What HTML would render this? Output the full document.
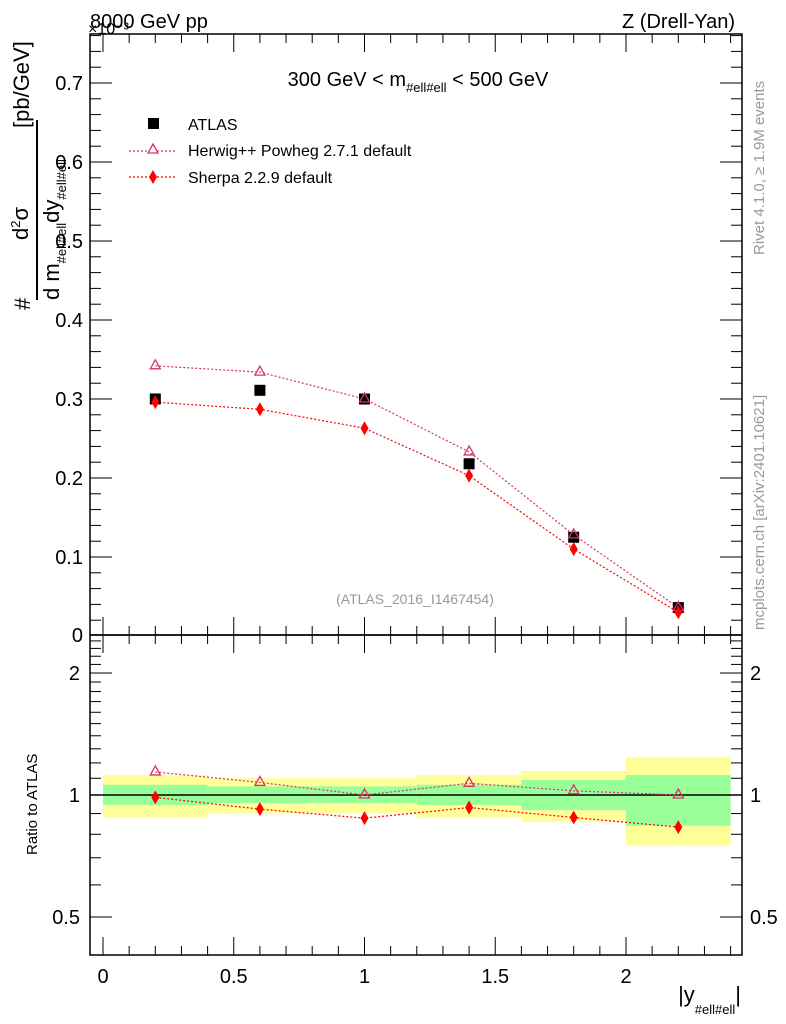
<!DOCTYPE html>
<html><head><meta charset="utf-8"><style>
html,body{margin:0;padding:0;background:#fff;}
svg{display:block;font-family:"Liberation Sans",sans-serif;}
</style></head><body>
<svg id="chart" width="786" height="1024" viewBox="0 0 786 1024" xmlns="http://www.w3.org/2000/svg">
<g id="bands"></g>
<g id="axes"></g>
<g id="series"></g>
<text x="90" y="28" font-size="20">8000 GeV pp</text>
<text x="88" y="34" font-size="16">×10⁻³</text>
<text x="735" y="28" font-size="20" text-anchor="end">Z (Drell-Yan)</text>
<text x="418" y="86" font-size="20" text-anchor="middle">300 GeV &lt; m<tspan font-size="13" dy="6">#ell#ell</tspan><tspan dy="-6"> &lt; 500 GeV</tspan></text>
<text x="415" y="604" font-size="14" fill="#999" text-anchor="middle">(ATLAS_2016_I1467454)</text>
<text transform="translate(764,255) rotate(-90)" font-size="15" fill="#999">Rivet 4.1.0, ≥ 1.9M events</text>
<text transform="translate(764,630) rotate(-90)" font-size="15" fill="#999">mcplots.cern.ch [arXiv:2401.10621]</text>
<g>
<text transform="translate(30,310) rotate(-90)" font-size="22">#</text>
<text transform="translate(28,240) rotate(-90)" font-size="22">d<tspan font-size="13" dy="-8">2</tspan><tspan dy="8">σ</tspan></text>
<line x1="37" y1="300" x2="37" y2="120" stroke="#000" stroke-width="2"/>
<text transform="translate(59,300) rotate(-90)" font-size="22">d m<tspan font-size="13" dy="7">#ell#ell</tspan><tspan dy="-7">dy</tspan><tspan font-size="13" dy="7">#ell#ell</tspan></text>
<text transform="translate(29,128) rotate(-90)" font-size="22">[pb/GeV]</text>
</g>
<text transform="translate(37,855) rotate(-90)" font-size="15">Ratio to ATLAS</text>
<text x="741" y="1002" font-size="22" text-anchor="end">|y<tspan font-size="13" dy="12">#ell#ell</tspan><tspan dy="-12">|</tspan></text>
<g>
<rect x="148" y="118" width="11" height="11" fill="#000"/>
<text x="188" y="130" font-size="16">ATLAS</text>
<line x1="129" y1="151" x2="176" y2="151" stroke="#d6336c" stroke-dasharray="2,2" stroke-width="1.2"/>
<path d="M153,144 L158,153 L148,153 Z" fill="#fff" stroke="#d6336c" stroke-width="1.3"/>
<text x="188" y="156" font-size="16">Herwig++ Powheg 2.7.1 default</text>
<line x1="129" y1="177" x2="176" y2="177" stroke="#f00" stroke-dasharray="2,2" stroke-width="1.2"/>
<path d="M153,170 L157,177 L153,184 L149,177 Z" fill="#f00"/>
<text x="188" y="183" font-size="16">Sherpa 2.2.9 default</text>
</g>
</svg>
<script>
const xCenters=[0.2,0.6,1.0,1.4,1.8,2.2];
const binEdges=[0,0.4,0.8,1.2,1.6,2.0,2.4];
const atlasValues=[0.300,0.311,0.300,0.218,0.125,0.036];
const herwigValues=[0.342,0.334,0.300,0.233,0.128,0.036];
const sherpaValues=[0.296,0.287,0.263,0.203,0.110,0.030];
const totalBandHi=[1.12,1.10,1.10,1.12,1.146,1.24];
const totalBandLo=[0.877,0.90,0.90,0.877,0.858,0.75];
const statBandHi=[1.06,1.05,1.05,1.06,1.09,1.12];
const statBandLo=[0.945,0.955,0.955,0.945,0.918,0.84];
const xTicks=[0,0.5,1,1.5,2];
const xTickLabels=["0","0.5","1","1.5","2"];
const yTicks=[0.1,0.2,0.3,0.4,0.5,0.6,0.7];
const yTickLabels=["0.1","0.2","0.3","0.4","0.5","0.6","0.7"];
const rTicks=[0.5,1,2];
const rTickLabels=["0.5","1","2"];

const L=90,R=742,T=34,MB=635,RB=955;
const X=v=>103+v*261.5;
const Y=v=>636-v*790;
const RY=v=>795-Math.log2(v)*122;
const NS="http://www.w3.org/2000/svg";
function mk(parent,tag,attrs){const e=document.createElementNS(NS,tag);for(const k in attrs)e.setAttribute(k,attrs[k]);parent.appendChild(e);return e;}
const bands=document.getElementById('bands'),axes=document.getElementById('axes'),series=document.getElementById('series');

for(let i=0;i<xCenters.length;i++){
 const y1=mk(bands,'rect',{x:X(binEdges[i]),y:RY(totalBandHi[i]),width:X(binEdges[i+1])-X(binEdges[i]),height:RY(totalBandLo[i])-RY(totalBandHi[i]),fill:'#ffff99'});
 
 
 const g1=mk(bands,'rect',{x:X(binEdges[i]),y:RY(statBandHi[i]),width:X(binEdges[i+1])-X(binEdges[i]),height:RY(statBandLo[i])-RY(statBandHi[i]),fill:'#99ff99'});
 
 
}
mk(axes,'rect',{x:L,y:T,width:R-L,height:MB-T,fill:'none',stroke:'#000','stroke-width':1.5});
mk(axes,'rect',{x:L,y:MB,width:R-L,height:RB-MB,fill:'none',stroke:'#000','stroke-width':1.5});
mk(axes,'line',{x1:L,y1:RY(1),x2:R,y2:RY(1),stroke:'#000','stroke-width':1.5});
for(let k=0;k<=24;k++){const v=k/10;const x=X(v);const major=(k%5===0);const len=major?18:9;
 mk(axes,'line',{x1:x,y1:MB,x2:x,y2:MB-len,stroke:'#000'});mk(axes,'line',{x1:x,y1:T,x2:x,y2:T+len,stroke:'#000'});
 mk(axes,'line',{x1:x,y1:RB,x2:x,y2:RB-len,stroke:'#000'});mk(axes,'line',{x1:x,y1:MB,x2:x,y2:MB+len,stroke:'#000'});}
xTicks.forEach((v,i)=>{const t=mk(axes,'text',{x:X(v),y:983,'font-size':20,'text-anchor':'middle'});t.textContent=xTickLabels[i];
 
 });
for(let k=1;k<=38;k++){const v=k*0.02;const y=Y(v);const major=(k%5===0);const len=major?22:11;
 mk(axes,'line',{x1:L,y1:y,x2:L+len,y2:y,stroke:'#000'});mk(axes,'line',{x1:R,y1:y,x2:R-len,y2:y,stroke:'#000'});}
yTicks.forEach((v,i)=>{const t=mk(axes,'text',{x:83,y:Y(v)+7,'font-size':20,'text-anchor':'end'});t.textContent=yTickLabels[i];
 
 });
const z=mk(axes,'text',{x:83,y:642,'font-size':20,'text-anchor':'end'});z.textContent='0';
[0.5,0.6,0.7,0.8,0.9,1,1.1,1.2,1.3,1.4,1.5,1.6,1.7,1.8,1.9,2,2.1,2.2,2.3,2.4].forEach(v=>{const y=RY(v);const major=(v===0.5||v===1||v===2);const len=major?22:11;
 mk(axes,'line',{x1:L,y1:y,x2:L+len,y2:y,stroke:'#000'});mk(axes,'line',{x1:R,y1:y,x2:R-len,y2:y,stroke:'#000'});});
rTicks.forEach((v,i)=>{const t=mk(axes,'text',{x:80,y:RY(v)+7,'font-size':20,'text-anchor':'end'});t.textContent=rTickLabels[i];
 
 
 const t2=mk(axes,'text',{x:750,y:RY(v)+7,'font-size':20});t2.textContent=rTickLabels[i];
 
 });

function line(vals,fy,col){mk(series,'polyline',{points:xCenters.map((x,i)=>X(x)+','+fy(vals[i])).join(' '),fill:'none',stroke:col,'stroke-dasharray':'2,2','stroke-width':1.2});}
function tri(x,y){return mk(series,'path',{d:`M${x},${y-6} L${x+5},${y+3} L${x-5},${y+3} Z`,fill:'none',stroke:'#d6336c','stroke-width':1.3});}
function dia(x,y){return mk(series,'path',{d:`M${x},${y-7} L${x+4},${y} L${x},${y+7} L${x-4},${y} Z`,fill:'#f00'});}
const herwigRatio=herwigValues.map((v,i)=>v/atlasValues[i]);
const sherpaRatio=sherpaValues.map((v,i)=>v/atlasValues[i]);
line(herwigValues,Y,'#d6336c');line(sherpaValues,Y,'#f00');
line(herwigRatio,RY,'#d6336c');line(sherpaRatio,RY,'#f00');
xCenters.forEach((x,i)=>{
 const a=mk(series,'rect',{x:X(x)-5.5,y:Y(atlasValues[i])-5.5,width:11,height:11,fill:'#000'});
 
 
 const h=tri(X(x),Y(herwigValues[i]));
 
 
 const s=dia(X(x),Y(sherpaValues[i]));
 
 
 const hr=tri(X(x),RY(herwigRatio[i]));
 
 
 const sr=dia(X(x),RY(sherpaRatio[i]));
 
 
});
</script>
</body></html>
